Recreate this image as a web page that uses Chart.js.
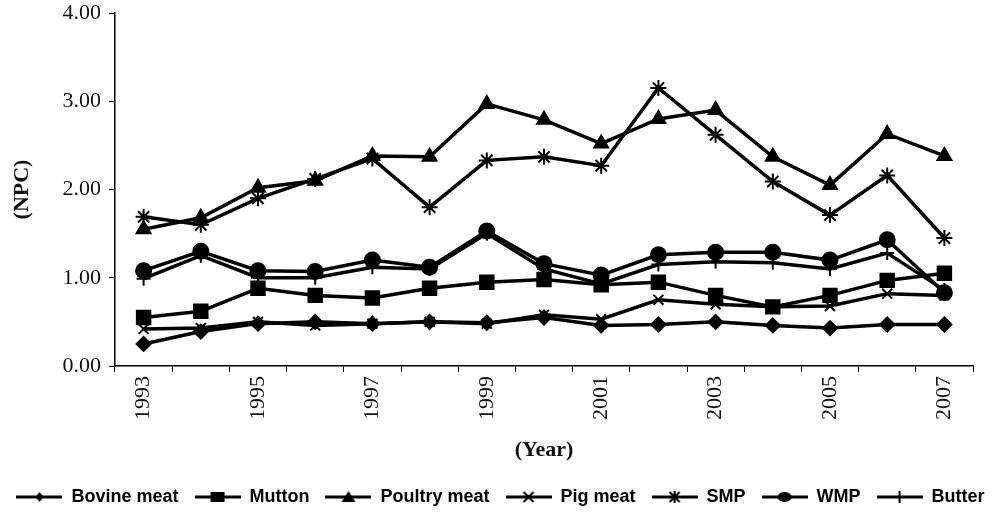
<!DOCTYPE html>
<html>
<head>
<meta charset="utf-8">
<script src="https://cdn.jsdelivr.net/npm/chart.js@4.4.1/dist/chart.umd.min.js"></script>
<style>
  html, body { margin: 0; padding: 0; background: #fff; }
  #wrap { position: relative; width: 1001px; height: 516px; }
</style>
</head>
<body>
<div id="wrap"><canvas id="myChart"></canvas></div>
<script>
// NPC by year
var years = ['1993','1994','1995','1996','1997','1998','1999','2000','2001','2002','2003','2004','2005','2006','2007'];
var shownYears = ['1993','1995','1997','1999','2001','2003','2005','2007'];
var yTicks = [0, 1, 2, 3, 4];

var bovine  = [0.25, 0.39, 0.48, 0.50, 0.48, 0.50, 0.49, 0.55, 0.46, 0.47, 0.50, 0.46, 0.43, 0.47, 0.47];
var mutton  = [0.55, 0.62, 0.88, 0.80, 0.77, 0.88, 0.95, 0.98, 0.92, 0.95, 0.80, 0.67, 0.80, 0.97, 1.05];
var poultry = [1.55, 1.68, 2.02, 2.10, 2.38, 2.37, 2.97, 2.79, 2.52, 2.80, 2.90, 2.37, 2.05, 2.63, 2.38];
var pig     = [0.42, 0.43, 0.50, 0.46, 0.48, 0.50, 0.48, 0.58, 0.53, 0.75, 0.70, 0.67, 0.68, 0.82, 0.80];
var smp     = [1.69, 1.60, 1.90, 2.12, 2.35, 1.80, 2.33, 2.37, 2.27, 3.15, 2.62, 2.09, 1.71, 2.16, 1.45];
var wmp     = [1.08, 1.30, 1.08, 1.07, 1.20, 1.12, 1.53, 1.16, 1.03, 1.26, 1.29, 1.29, 1.20, 1.43, 0.83];
var butter  = [0.99, 1.25, 1.00, 1.00, 1.12, 1.10, 1.50, 1.10, 0.93, 1.15, 1.18, 1.17, 1.10, 1.28, 0.86];

// little line+marker pictures for the legend
function legendIcon(shape) {
    var c = document.createElement('canvas');
    c.width = 46; c.height = 16;
    var g = c.getContext('2d');
    g.strokeStyle = '#000'; g.fillStyle = '#000';
    g.lineWidth = 3;
    g.beginPath(); g.moveTo(0, 8); g.lineTo(46, 8); g.stroke();
    g.lineWidth = 2;
    var x = 23, y = 8;
    g.beginPath();
    if (shape == 'diamond') {
        g.moveTo(x, y - 5); g.lineTo(x + 4, y); g.lineTo(x, y + 5); g.lineTo(x - 4, y); g.closePath(); g.fill();
    } else if (shape == 'square') {
        g.fillRect(x - 7, y - 5, 14, 10);
    } else if (shape == 'triangle') {
        g.moveTo(x, y - 6); g.lineTo(x + 7, y + 5); g.lineTo(x - 7, y + 5); g.closePath(); g.fill();
    } else if (shape == 'x') {
        g.moveTo(x - 5, y - 5); g.lineTo(x + 5, y + 5); g.moveTo(x + 5, y - 5); g.lineTo(x - 5, y + 5); g.stroke();
    } else if (shape == 'star') {
        g.moveTo(x - 5, y - 5); g.lineTo(x + 5, y + 5); g.moveTo(x + 5, y - 5); g.lineTo(x - 5, y + 5);
        g.moveTo(x, y - 6); g.lineTo(x, y + 6); g.stroke();
    } else if (shape == 'circle') {
        g.ellipse(x, y, 7, 5, 0, 0, Math.PI * 2); g.fill();
    } else if (shape == 'bar') {
        g.moveTo(x, y - 6); g.lineTo(x, y + 6); g.stroke();
    }
    return c;
}

function series(label, data, style, radius, icon) {
    return {
        label: label,
        data: data,
        borderColor: '#000',
        backgroundColor: '#000',
        borderWidth: 3.5,
        pointStyle: style,
        pointRadius: radius,
        pointBorderWidth: 2,
        pointBackgroundColor: '#000',
        pointBorderColor: '#000',
        tension: 0,
        fill: false,
        legendIcon: legendIcon(icon)
    };
}

var datasets = [
    series('Bovine meat', bovine, 'rectRot', 7, 'diamond'),
    series('Mutton', mutton, 'rect', 9.5, 'square'),
    series('Poultry meat', poultry, 'triangle', 8, 'triangle'),
    series('Pig meat', pig, 'crossRot', 7, 'x'),
    series('SMP', smp, 'star', 8, 'star'),
    series('WMP', wmp, 'circle', 7.5, 'circle'),
    series('Butter', butter, 'cross', 7, 'bar')
];

var serif = 'Liberation Serif';

var ctx = document.getElementById('myChart').getContext('2d');
var myChart = new Chart(ctx, {
    type: 'line',
    data: { labels: years, datasets: datasets },
    options: {
        responsive: true,
        maintainAspectRatio: false,
        animation: false,
        layout: { padding: 0 },
        plugins: {
            tooltip: { enabled: false },
            legend: {
                position: 'bottom',
                labels: {
                    usePointStyle: true,
                    pointStyleWidth: 46,
                    padding: 16,
                    color: '#000',
                    font: { family: 'Liberation Sans', size: 18, weight: 'bold' },
                    generateLabels: function (chart) {
                        return chart.data.datasets.map(function (ds, i) {
                            return {
                                text: ds.label,
                                pointStyle: ds.legendIcon,
                                fillStyle: '#000',
                                strokeStyle: '#000',
                                lineWidth: 0,
                                fontColor: '#000',
                                datasetIndex: i,
                                hidden: false
                            };
                        });
                    }
                }
            }
        },
        scales: {
            x: {
                offset: true,
                afterFit: function (scale) { scale.height = 106; scale.paddingRight = 28; },
                grid: { offset: true, drawOnChartArea: false, drawTicks: true, tickLength: 6, color: '#000', lineWidth: 1 },
                border: { display: true, color: '#000', width: 1.5 },
                ticks: {
                    autoSkip: false,
                    maxRotation: 90,
                    minRotation: 90,
                    padding: 4,
                    color: '#111',
                    font: { family: serif, size: 22 },
                    callback: function (v, i) {
                        var y = this.getLabelForValue(v);
                        return shownYears.indexOf(y) >= 0 ? y : '';
                    }
                },
                title: {
                    display: true,
                    text: '(Year)',
                    color: '#111',
                    font: { family: serif, size: 22, weight: 'bold' },
                    padding: { top: 0, bottom: 8 }
                }
            },
            y: {
                min: 0,
                max: 4,
                afterFit: function (scale) { scale.width = 115; scale.paddingTop = 13; scale.paddingBottom = 0; },
                afterBuildTicks: function (scale) {
                    scale.ticks = yTicks.map(function (v) { return { value: v }; });
                },
                grid: { drawOnChartArea: false, drawTicks: true, tickLength: 6, color: '#000', lineWidth: 1 },
                border: { display: true, color: '#000', width: 1.5 },
                ticks: {
                    padding: 8,
                    color: '#111',
                    font: { family: serif, size: 22 },
                    callback: function (v) { return Number(v).toFixed(2); }
                },
                title: {
                    display: true,
                    text: '(NPC)',
                    color: '#111',
                    font: { family: serif, size: 22, weight: 'bold' },
                    padding: { top: 9, bottom: 0 }
                }
            }
        }
    }
});
</script>
</body>
</html>
